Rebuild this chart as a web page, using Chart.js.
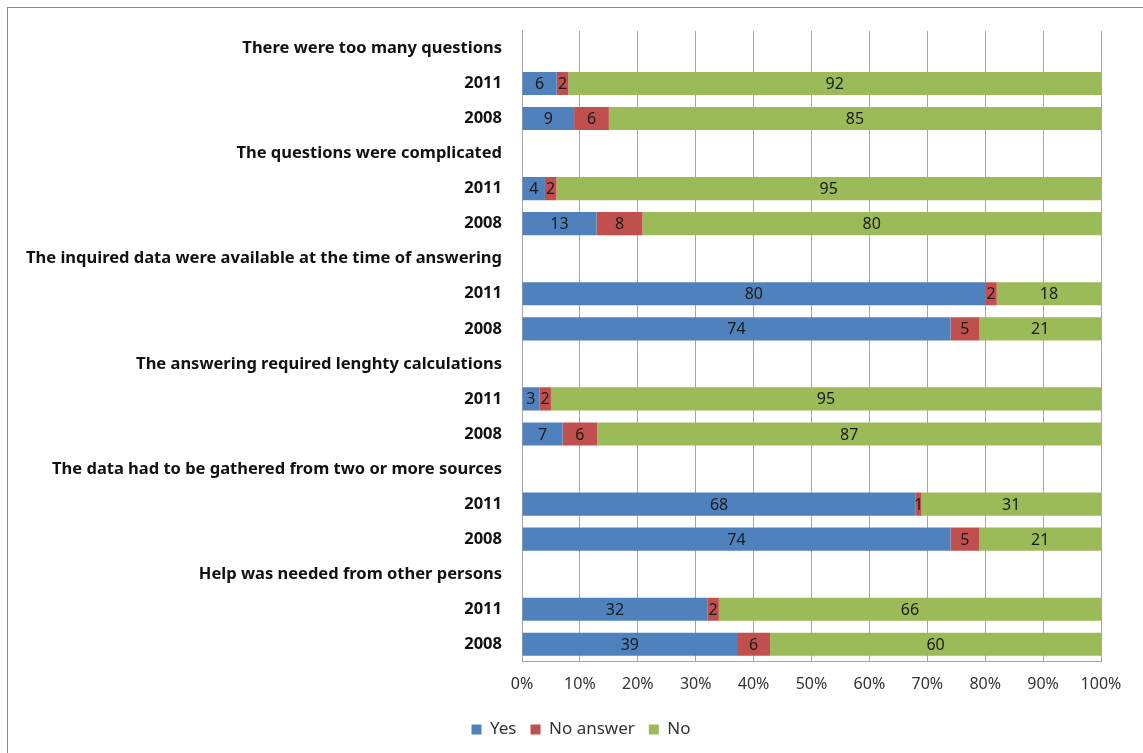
<!DOCTYPE html>
<html>
<head>
<meta charset="utf-8">
<script src="https://cdn.jsdelivr.net/npm/chart.js@4/dist/chart.umd.min.js"></script>
<style>
  html, body { margin: 0; padding: 0; background: #fff; overflow: hidden; }
  #frame {
    position: absolute; left: 7px; top: 7px;
    width: 1200px; height: 800px;
    border: 1.5px solid #8a8a8a;
    box-sizing: border-box;
  }
  #wrap { position: absolute; left: 1px; top: 1px; width: 1185px; height: 745px; }
</style>
</head>
<body>
<div id="frame">
  <div id="wrap"><canvas id="chart" width="1185" height="745"></canvas></div>
</div>
<script>
  // rows: a question header followed by its two survey years
  const categories = [
    "There were too many questions", "2011", "2008",
    "The questions were complicated", "2011", "2008",
    "The inquired data were available at the time of answering", "2011", "2008",
    "The answering required lenghty calculations", "2011", "2008",
    "The data had to be gathered from two or more sources", "2011", "2008",
    "Help was needed from other persons", "2011", "2008",
  ];
  const yes = [null, 6, 9, null, 4, 13, null, 80, 74, null, 3, 7, null, 68, 74, null, 32, 39];
  const noAnswer = [null, 2, 6, null, 2, 8, null, 2, 5, null, 2, 6, null, 1, 5, null, 2, 6];
  const no = [null, 92, 85, null, 95, 80, null, 18, 21, null, 95, 87, null, 31, 21, null, 66, 60];
  const xTicks = [0, 10, 20, 30, 40, 50, 60, 70, 80, 90, 100];

  const FONT = "'Noto Sans', 'Open Sans', sans-serif";

  // 100% stacked: scale each row to its own total
  function share(arr, i) {
    const tot = (yes[i] || 0) + (noAnswer[i] || 0) + (no[i] || 0);
    if (arr[i] == null || !tot) return null;
    return (arr[i] / tot) * 100;
  }
  const pct = (arr) => arr.map((_, i) => share(arr, i));

  const barLabels = {
    id: "barLabels",
    afterDatasetsDraw(chart) {
      const ctx = chart.ctx;
      ctx.save();
      ctx.font = "16px " + FONT;
      ctx.fillStyle = "#1a1a1a";
      ctx.textAlign = "center";
      ctx.textBaseline = "middle";
      chart.data.datasets.forEach((ds, di) => {
        const meta = chart.getDatasetMeta(di);
        meta.data.forEach((bar, i) => {
          const raw = ds.raw[i];
          if (raw == null) return;
          const cx = (bar.x + bar.base) / 2;
          ctx.fillText(String(raw), cx, bar.y + 1);
        });
      });
      ctx.restore();
    },
  };

  // the legend sits a bit right of the canvas centre
  const legendShift = {
    id: "legendShift",
    afterLayout(chart) {
      if (!chart.legend) return;
      chart.legend.left += 26;
      chart.legend.right += 26;
    },
  };

  new Chart(document.getElementById("chart"), {
    type: "bar",
    data: {
      labels: categories,
      datasets: [
        { label: "Yes", data: pct(yes), raw: yes, backgroundColor: "#4f81bd" },
        { label: "No answer", data: pct(noAnswer), raw: noAnswer, backgroundColor: "#c0504d" },
        { label: "No", data: pct(no), raw: no, backgroundColor: "#9bbb59" },
      ],
    },
    options: {
      indexAxis: "y",
      responsive: false,
      animation: false,
      categoryPercentage: 0.66,
      barPercentage: 1,
      layout: { padding: { left: 0, right: 93, top: 11, bottom: 6 } },
      plugins: {
        legend: {
          position: "bottom",
          labels: {
            boxWidth: 10,
            boxHeight: 10,
            padding: 14,
            color: "#333",
            font: { family: FONT, size: 17 },
          },
        },
        tooltip: { enabled: false },
      },
      scales: {
        x: {
          stacked: true,
          min: 0,
          max: 100,
          afterBuildTicks: (s) => { s.ticks = xTicks.map((v) => ({ value: v })); },
          ticks: {
            callback: (v) => `${v}%`,
            color: "#333",
            padding: 13,
            maxRotation: 0,
            font: { family: FONT, size: 16 },
          },
          grid: { color: "#a6a6a6", tickLength: 0, drawTicks: false },
          border: { color: "#a6a6a6" },
        },
        y: {
          stacked: true,
          afterFit: (s) => { s.width = 513; },
          ticks: {
            color: "#111",
            padding: 12,
            autoSkip: false,
            font: { family: FONT, size: 16.5, weight: "bold" },
          },
          grid: { display: false },
          border: { color: "#a6a6a6" },
        },
      },
    },
    plugins: [barLabels, legendShift],
  });
</script>
</body>
</html>
